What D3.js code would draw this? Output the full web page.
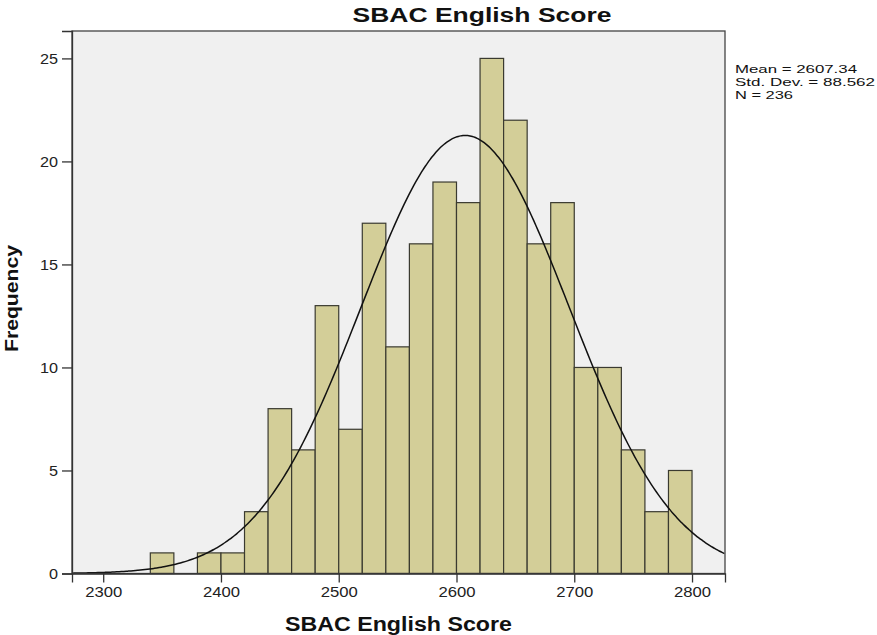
<!DOCTYPE html>
<html><head><meta charset="utf-8">
<script src="https://cdn.jsdelivr.net/npm/d3@7"></script>
<style>body{margin:0;background:#fff}svg{display:block}text{font-family:"Liberation Sans",Arial,sans-serif}</style>
</head><body>
<svg id="c" width="877" height="635"></svg>
<script>
const binStarts = [2340,2380,2400,2420,2440,2460,2480,2500,2520,2540,2560,2580,2600,2620,2640,2660,2680,2700,2720,2740,2760,2780];
const binCounts = [1,1,1,3,8,6,13,7,17,11,16,19,18,25,22,16,18,10,10,6,3,5];
const binWidth = 20;
const xTicks = [2300,2400,2500,2600,2700,2800];
const yTicks = [0,5,10,15,20,25];
const mean = 2607.34, sd = 88.562, N = 236;
const statLines = ["Mean = 2607.34","Std. Dev. = 88.562","N = 236"];

const svg = d3.select("#c");
const L=72, R=725, T=31, B=573.5;
const x = d3.scaleLinear().domain([2273.5,2828]).range([L,R]);
const y = d3.scaleLinear().domain([0,26.33]).range([B,T]);

function stretch(sel, f){ sel.each(function(){ const w=this.getComputedTextLength(); d3.select(this).attr("textLength",w*f).attr("lengthAdjust","spacingAndGlyphs"); }); }

svg.append("rect").attr("x",L).attr("y",T).attr("width",R-L).attr("height",B-T).attr("fill","#f0f0f0");

svg.append("g").selectAll("rect").data(binStarts).join("rect")
  .attr("x",(d)=>x(d)).attr("width",(d)=>x(d+binWidth)-x(d))
  .attr("y",(d,i)=>y(binCounts[i])).attr("height",(d,i)=>y(0)-y(binCounts[i]))
  .attr("fill","#d3ce98").attr("stroke","#3a3a30").attr("stroke-width",1.2);

const pts = d3.range(2273.5,2828.01,2).map(v=>[v, N*binWidth/(sd*Math.sqrt(2*Math.PI))*Math.exp(-0.5*((v-mean)/sd)**2)]);
svg.append("path").datum(pts).attr("fill","none").attr("stroke","#111").attr("stroke-width",1.5)
  .attr("d",d3.line().x(d=>x(d[0])).y(d=>y(d[1])).curve(d3.curveBasis));

svg.append("rect").attr("x",L).attr("y",T).attr("width",R-L).attr("height",B-T).attr("fill","none").attr("stroke","#444").attr("stroke-width",1.3);

const xa = svg.append("g").attr("transform",`translate(0,${B})`).call(d3.axisBottom(x).tickValues(xTicks).tickSize(9).tickPadding(5).tickFormat(d3.format("d")));
const ya = svg.append("g").attr("transform",`translate(${L},0)`).call(d3.axisLeft(y).tickValues(yTicks).tickSize(10).tickPadding(4));
[xa,ya].forEach(g=>{g.select(".domain").attr("stroke","#333").attr("stroke-width",1.3);g.selectAll(".tick line").attr("stroke","#333").attr("stroke-width",1.3);g.selectAll("text").attr("fill","#222").attr("font-family","'Liberation Sans',Arial,sans-serif");});
xa.selectAll("text").attr("font-size",14); stretch(xa.selectAll("text"),1.19);
ya.selectAll("text").attr("font-size",15); stretch(ya.selectAll("text"),1.08);

const t1 = svg.append("text").attr("x",482).attr("y",22).attr("text-anchor","middle").attr("font-size",20).attr("font-weight","bold").attr("fill","#111").text("SBAC English Score");
t1.attr("textLength",259).attr("lengthAdjust","spacingAndGlyphs");
const t2 = svg.append("text").attr("x",398.5).attr("y",631).attr("text-anchor","middle").attr("font-size",20).attr("font-weight","bold").attr("fill","#111").text("SBAC English Score");
t2.attr("textLength",227).attr("lengthAdjust","spacingAndGlyphs");
const t3 = svg.append("text").attr("transform","translate(18,298.5) rotate(-90)").attr("text-anchor","middle").attr("font-size",18).attr("font-weight","bold").attr("fill","#111").text("Frequency");
t3.attr("textLength",107).attr("lengthAdjust","spacingAndGlyphs");

const statW = [122,140,58];
svg.append("g").selectAll("text").data(statLines).join("text").attr("x",735).attr("y",(d,i)=>73+i*13.2).attr("font-size",11.5).attr("fill","#111")
  .attr("textLength",(d,i)=>statW[i]).attr("lengthAdjust","spacingAndGlyphs").text(d=>d);
</script>
</body></html>
